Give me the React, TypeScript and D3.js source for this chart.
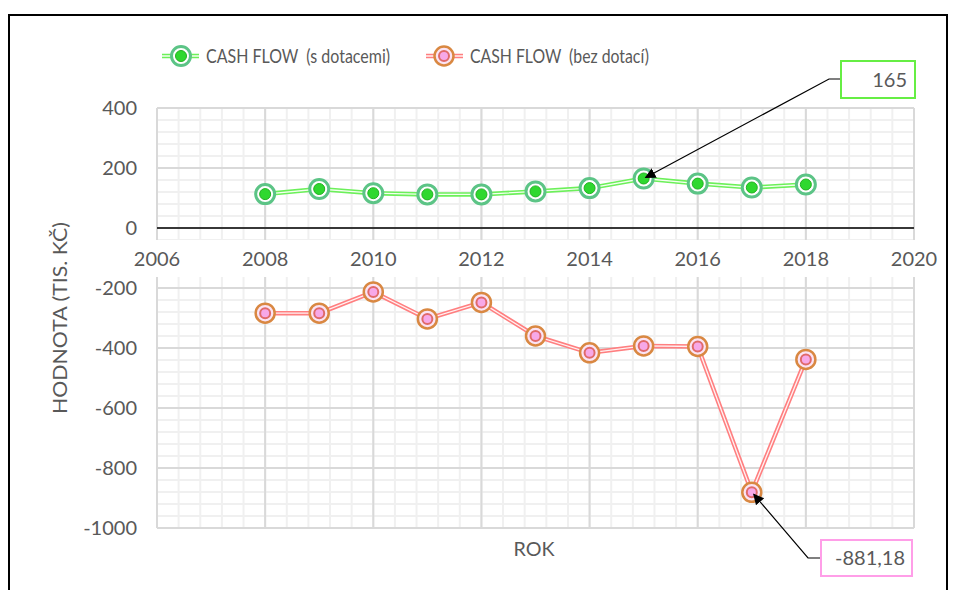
import * as d3 from "d3";

const YEARS = [2008, 2009, 2010, 2011, 2012, 2013, 2014, 2015, 2016, 2017, 2018];
const WITH_SUBSIDY = [113, 130, 116, 112, 112, 122, 133, 165, 148, 135, 145];
const WITHOUT_SUBSIDY = [-284, -284, -213, -303, -248, -360, -416, -393, -395, -881.18, -438];
const X_TICKS = [2006, 2008, 2010, 2012, 2014, 2016, 2018, 2020];
const Y_TICKS = [400, 200, 0, -200, -400, -600, -800, -1000];
const SERIES_NAMES = ["CASH FLOW  (s dotacemi)", "CASH FLOW  (bez dotací)"];

const FONT = "Lato, 'Open Sans', sans-serif";
const TEXT = "#595959";

const left = 157;
const right = 914;
const top = 108;
const bottom = 528;

export default function App() {
  const x = d3.scaleLinear().domain([2006, 2020]).range([left, right]);
  const y = d3.scaleLinear().domain([-1000, 400]).range([bottom, top]);

  const minorX = d3.range(2006, 2020.001, 0.4);
  const minorY = d3.range(-1000, 400.001, 40);

  const greenPts = YEARS.map((yr, i) => [x(yr), y(WITH_SUBSIDY[i])] as [number, number]);
  const redPts = YEARS.map((yr, i) => [x(yr), y(WITHOUT_SUBSIDY[i])] as [number, number]);
  const line = d3.line();

  const greenMarker = (cx: number, cy: number, k: string | number) => (
    <g key={k}>
      <circle cx={cx} cy={cy} r={9.5} fill="#fff" stroke="#5cc486" strokeWidth={3} />
      <circle cx={cx} cy={cy} r={5.5} fill="#2fd82f" stroke="#22b022" strokeWidth={1} />
    </g>
  );
  const redMarker = (cx: number, cy: number, k: string | number) => (
    <g key={k}>
      <circle cx={cx} cy={cy} r={9.5} fill="#fbe3f4" stroke="#d98842" strokeWidth={2.5} />
      <circle cx={cx} cy={cy} r={5} fill="#f7a8e8" stroke="#e06a6a" strokeWidth={2} />
    </g>
  );

  const peak = greenPts[YEARS.indexOf(2015)];
  const low = redPts[YEARS.indexOf(2017)];

  return (
    <svg
      width={955}
      height={590}
      style={{ position: "absolute", left: 0, top: 0, display: "block", fontFamily: FONT }}
    >
      <defs>
        <marker id="arr" viewBox="0 0 10 10" refX="9" refY="5" markerWidth="9" markerHeight="9" orient="auto">
          <path d="M0,0 L10,5 L0,10 z" fill="#000" />
        </marker>
      </defs>
      <rect x={0} y={0} width={955} height={590} fill="#fff" />
      <rect x={9} y={15} width={938} height={600} fill="#fff" stroke="#000" strokeWidth={2} />

      {/* minor grid */}
      {minorX.map((v, i) => (
        <line key={"mx" + i} x1={x(v)} x2={x(v)} y1={top} y2={bottom} stroke="#f0f0f0" strokeWidth={2} />
      ))}
      {minorY.map((v, i) => (
        <line key={"my" + i} x1={left} x2={right} y1={y(v)} y2={y(v)} stroke="#f0f0f0" strokeWidth={2} />
      ))}
      {/* major grid */}
      {X_TICKS.map((v) => (
        <line key={"Mx" + v} x1={x(v)} x2={x(v)} y1={top} y2={bottom} stroke="#d9d9d9" strokeWidth={2} />
      ))}
      {Y_TICKS.map((v) => (
        <line key={"My" + v} x1={left} x2={right} y1={y(v)} y2={y(v)} stroke="#d9d9d9" strokeWidth={2} />
      ))}

      {/* label band over the grid */}
      <rect x={left - 2} y={240} width={right - left + 4} height={37} fill="#fff" />
      <line x1={left} x2={right} y1={y(0)} y2={y(0)} stroke="#000" strokeWidth={1.3} />

      {X_TICKS.map((v) => (
        <text key={"xt" + v} x={x(v)} y={266} fontSize={20} fill={TEXT} textAnchor="middle">
          {v}
        </text>
      ))}
      {Y_TICKS.map((v) => (
        <text key={"yt" + v} x={137} y={y(v) + 7} fontSize={20} fill={TEXT} textAnchor="end">
          {v}
        </text>
      ))}

      <text
        transform={`translate(67,318) rotate(-90)`}
        fontSize={20}
        fill={TEXT}
        textAnchor="middle"
        textLength={192}
        lengthAdjust="spacingAndGlyphs"
      >
        HODNOTA (TIS. KČ)
      </text>
      <text x={534} y={556} fontSize={20} fill={TEXT} textAnchor="middle" textLength={41} lengthAdjust="spacingAndGlyphs">
        ROK
      </text>

      {/* series lines */}
      <path d={line(greenPts) ?? ""} fill="none" stroke="#6cf05a" strokeWidth={4.5} />
      <path d={line(greenPts) ?? ""} fill="none" stroke="#f4fff0" strokeWidth={1.3} />
      <path d={line(redPts) ?? ""} fill="none" stroke="#ff7f80" strokeWidth={4.5} />
      <path d={line(redPts) ?? ""} fill="none" stroke="#fff2f2" strokeWidth={1.3} />
      {greenPts.map((p, i) => greenMarker(p[0], p[1], "g" + i))}
      {redPts.map((p, i) => redMarker(p[0], p[1], "r" + i))}

      {/* legend */}
      <line x1={162} x2={199} y1={56} y2={56} stroke="#6cf05a" strokeWidth={4.5} />
      <line x1={162} x2={199} y1={56} y2={56} stroke="#f4fff0" strokeWidth={1.3} />
      {greenMarker(181, 56, "lg")}
      <text
        x={206}
        y={63}
        fontSize={20}
        fill={TEXT}
        style={{ whiteSpace: "pre" }}
        textLength={184}
        lengthAdjust="spacingAndGlyphs"
      >
        {SERIES_NAMES[0]}
      </text>
      <line x1={426} x2={463} y1={56} y2={56} stroke="#ff7f80" strokeWidth={4.5} />
      <line x1={426} x2={463} y1={56} y2={56} stroke="#fff2f2" strokeWidth={1.3} />
      {redMarker(444, 56, "lr")}
      <text
        x={470}
        y={63}
        fontSize={20}
        fill={TEXT}
        style={{ whiteSpace: "pre" }}
        textLength={179}
        lengthAdjust="spacingAndGlyphs"
      >
        {SERIES_NAMES[1]}
      </text>

      {/* annotation 165 */}
      <polyline
        points={`841,79 829,79 ${peak[0] + 2},${peak[1] - 1}`}
        fill="none"
        stroke="#000"
        strokeWidth={1.2}
        markerEnd="url(#arr)"
      />
      <rect x={841} y={61} width={74} height={37} fill="#fff" stroke="#66ee44" strokeWidth={2} />
      <text x={907} y={87} fontSize={20} fill={TEXT} textAnchor="end">
        {WITH_SUBSIDY[YEARS.indexOf(2015)]}
      </text>

      {/* annotation -881,18 */}
      <polyline
        points={`821,558 808,558 ${low[0] + 2},${low[1] + 2}`}
        fill="none"
        stroke="#000"
        strokeWidth={1.2}
        markerEnd="url(#arr)"
      />
      <rect x={821} y={540} width={91} height={36} fill="#fff" stroke="#ff9ee8" strokeWidth={2} />
      <text x={905} y={565} fontSize={20} fill={TEXT} textAnchor="end">
        {String(WITHOUT_SUBSIDY[YEARS.indexOf(2017)]).replace(".", ",")}
      </text>
    </svg>
  );
}
